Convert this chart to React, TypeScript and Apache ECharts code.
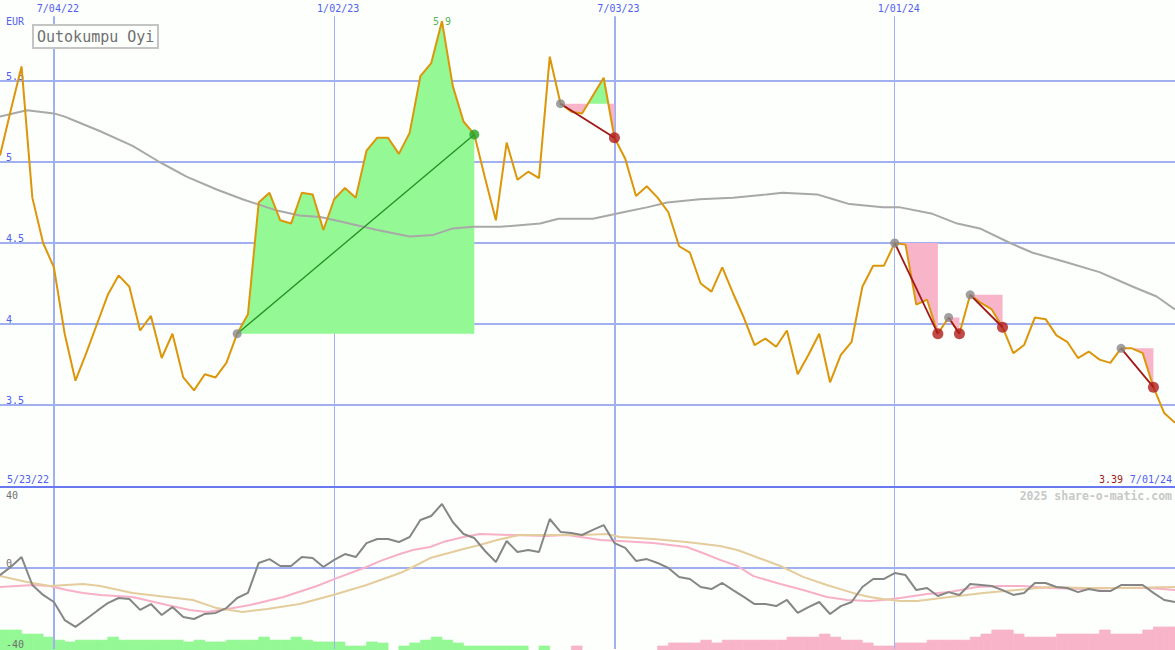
import React, { useEffect, useRef } from "react";
import * as echarts from "echarts";

const MONO = '"DejaVu Sans Mono", monospace';

// weekly closes, week 1 .. week 110
const price = [
  5.04, 5.32, 5.59, 4.78, 4.5, 4.35, 3.94, 3.65, 3.82, 4.0,
  4.18, 4.3, 4.23, 3.96, 4.05, 3.79, 3.94, 3.67, 3.59, 3.69,
  3.67, 3.76, 3.94, 4.06, 4.75, 4.81, 4.64, 4.62, 4.81, 4.8,
  4.58, 4.77, 4.84, 4.78, 5.07, 5.15, 5.15, 5.05, 5.18, 5.53,
  5.61, 5.87, 5.47, 5.25, 5.17, 4.9, 4.64, 5.12, 4.89, 4.94,
  4.9, 5.65, 5.36, 5.31, 5.3, 5.41, 5.52, 5.15, 5.02, 4.79,
  4.85, 4.78, 4.69, 4.48, 4.44, 4.25, 4.2, 4.35, 4.19, 4.04,
  3.87, 3.91, 3.86, 3.96, 3.69, 3.81, 3.94, 3.64, 3.81, 3.89,
  4.23, 4.36, 4.36, 4.5, 4.49, 4.12, 4.15, 3.94, 4.04, 3.94,
  4.18, 4.13, 4.09, 3.98, 3.82, 3.87, 4.04, 4.03, 3.93, 3.89,
  3.79, 3.83, 3.78, 3.76, 3.85, 3.85, 3.82, 3.61, 3.45, 3.39,
];

// long moving average (week position, value)
const maWeeks = [1, 3.5, 6, 7, 8.1, 10.3, 13.3, 15.8, 18.3, 21.1, 23.5, 26.7, 28.8, 30.7, 32.8, 36, 39, 41.2, 43, 44.9, 47.4, 51.1, 52.8, 56, 58.8, 61, 62.9, 65.9, 69, 72.1, 73.6, 76.8, 78.3, 79.8, 82.9, 84.5, 87.5, 89.8, 91.9, 94.7, 96.8, 100, 103, 106.1, 108.3, 110];
const maValues = [5.28, 5.32, 5.3, 5.28, 5.25, 5.19, 5.1, 5.0, 4.91, 4.83, 4.77, 4.7, 4.67, 4.66, 4.63, 4.58, 4.54, 4.55, 4.59, 4.6, 4.6, 4.62, 4.65, 4.65, 4.69, 4.72, 4.75, 4.77, 4.78, 4.8, 4.81, 4.8, 4.77, 4.74, 4.72, 4.72, 4.68, 4.62, 4.59, 4.5, 4.44, 4.38, 4.32, 4.23, 4.17, 4.09];

// lower panel oscillator, week 1 .. 110
const momentum = [
  -3.5, 0.5, 5.4, -8.4, -13.3, -16.8, -25.7, -29.1, -25.2, -21.2,
  -17.3, -14.8, -15.3, -20.7, -17.8, -23.2, -19.3, -24.2, -25.2, -22.7,
  -22.2, -19.8, -14.8, -12.3, 2.5, 4.4, 1.0, 1.0, 5.4, 4.9,
  0.5, 4.0, 6.9, 5.4, 12.3, 14.3, 14.3, 12.8, 15.3, 23.7,
  25.7, 31.6, 22.7, 16.8, 14.8, 8.4, 3.0, 13.3, 7.9, 8.9,
  7.9, 24.2, 17.8, 17.3, 16.3, 18.8, 21.2, 12.3, 9.9, 3.5,
  4.4, 2.5, 0.0, -4.4, -5.4, -9.4, -10.4, -7.4, -10.9, -14.3,
  -17.8, -17.8, -18.8, -15.8, -22.2, -19.3, -16.8, -22.7, -18.8, -16.8,
  -9.4, -5.4, -5.4, -2.5, -3.5, -10.9, -9.9, -13.8, -11.9, -13.3,
  -7.9, -8.4, -8.9, -10.9, -13.3, -12.3, -7.4, -7.4, -9.4, -9.9,
  -11.9, -10.4, -11.4, -11.4, -8.4, -8.4, -8.4, -12.3, -15.8, -16.8,
];

const pinkWeeks = [1, 4.1, 5.6, 7.2, 8.7, 10.3, 13.3, 16.5, 18.6, 20.2, 22.1, 24.2, 27.3, 30.4, 32.3, 35.0, 36.3, 38.1, 39.3, 40.9, 42.1, 44.0, 45.5, 48.6, 51.7, 53.6, 55.5, 56.7, 58.5, 61.6, 64.7, 66.2, 67.8, 69.4, 70.9, 73.4, 75.5, 77.7, 79.6, 81.7, 82.9, 84.5, 87.0, 89.1, 91.6, 93.8, 95.9, 98.4, 101.5, 104.6, 107.7, 110];
const pinkValues = [-9.4, -8.4, -8.9, -10.9, -12.3, -13.3, -14.3, -18.3, -20.7, -21.7, -20.2, -18.3, -14.3, -8.9, -4.9, 0.5, 3.5, 6.9, 8.9, 10.4, 12.8, 15.3, 16.8, 16.3, 15.8, 16.3, 14.8, 13.8, 13.3, 12.3, 10.4, 7.4, 4.0, 1.0, -4.0, -7.9, -10.9, -14.3, -15.8, -16.3, -15.8, -14.8, -12.8, -11.9, -9.4, -8.9, -8.9, -9.9, -10.4, -9.9, -9.9, -10.9];

const tanWeeks = [1, 3.5, 5.6, 8.7, 10.3, 13.3, 16.5, 18.9, 21.1, 23.5, 25.8, 28.8, 31.9, 35.0, 36.3, 38.1, 39.3, 40.9, 44.0, 45.5, 47.1, 49.2, 51.7, 54.8, 57.3, 58.5, 61.6, 64.7, 67.8, 69.4, 70.9, 73.4, 75.5, 77.7, 80.1, 81.7, 82.9, 84.5, 86.1, 89.1, 92.2, 95.3, 98.4, 101.5, 104.6, 110];
const tanValues = [-4.0, -6.9, -8.9, -7.9, -8.9, -12.3, -14.3, -15.8, -19.8, -21.7, -20.2, -17.8, -13.3, -8.4, -5.9, -2.5, 0.5, 4.9, 9.4, 11.4, 13.8, 16.3, 16.3, 16.3, 16.8, 15.3, 14.3, 12.8, 10.9, 8.9, 5.9, 1.0, -4.4, -8.4, -12.3, -14.3, -15.3, -16.3, -16.3, -14.3, -12.3, -10.9, -9.4, -9.9, -9.9, -9.4];

// trend bars per week interval (week 1 .. 109); positive = green, negative = pink
const trendBars = [
  9.4, 9.4, 7.4, 7.4, 5.9, 4.4, 3.5, 4.4, 4.4, 4.4,
  5.9, 4.4, 4.4, 4.4, 4.4, 4.4, 4.4, 3.5, 4.4, 3.5,
  3.5, 4.4, 4.4, 4.4, 5.9, 4.4, 4.4, 5.9, 4.4, 3.5,
  3.5, 3.5, 1.5, 1.5, 3.5, 3.0, 0, 1.5, 3.0, 4.4,
  5.9, 4.4, 3.0, 1.5, 1.5, 1.5, 1.5, 1.5, 1.5, 0,
  1.5, 0, 0, -1.5, 0, 0, 0, 0, 0, 0,
  0, -1.5, -3.0, -3.0, -3.0, -4.4, -3.0, -4.4, -4.4, -4.4,
  -4.4, -4.4, -4.4, -5.9, -5.9, -5.9, -7.4, -5.9, -4.4, -4.4,
  -3.0, -1.5, -1.5, -3.0, -3.0, -3.0, -4.4, -4.4, -4.4, -4.4,
  -5.9, -7.4, -9.4, -9.4, -7.4, -5.9, -5.9, -5.9, -7.4, -7.4,
  -7.4, -7.4, -9.4, -7.4, -7.4, -7.4, -9.4, -10.9, -10.9,
];

// trend signals (start week, end week)
const signalStarts = [23, 53, 84, 89, 91, 105];
const signalEnds = [45, 58, 88, 90, 94, 108];

// date ticks
const dateTickWeeks = [6, 32, 58, 84];
const dateTickLabels = ["7/04/22", "1/02/23", "7/03/23", "1/01/24"];
const dateTickWidths = [2, 1, 2, 1];
const firstDateLabel = "5/23/22";
const lastDateLabel = "7/01/24";
const currency = "EUR";
const stockName = "Outokumpu Oyi";
const watermark = "2025 share-o-matic.com";

const BG = "#fcfffc";
const GRID_BLUE = "#a0b0f0";
const GREEN_FILL = "#94f894";
const PINK_FILL = "#f8b4c8";

function buildFill(s: number, e: number) {
  const level = price[s - 1];
  const up: number[][] = [];
  const down: number[][] = [];
  for (let w = s; w <= e; w++) {
    const v = price[w - 1];
    if (w > s) {
      const prev = price[w - 2];
      if ((prev - level) * (v - level) < 0) {
        const t = (level - prev) / (v - prev);
        const xc = w - 1 + t;
        up.push([xc, level]);
        down.push([xc, level]);
      }
    }
    up.push([w, Math.max(v, level)]);
    down.push([w, Math.min(v, level)]);
  }
  return { level, up, down };
}

export default function App() {
  const ref = useRef<HTMLDivElement>(null);

  useEffect(() => {
    if (!ref.current) return;
    const chart = echarts.init(ref.current, null, { renderer: "svg" });

    const series: any[] = [];

    // price line with vertical date lines
    series.push({
      type: "line",
      name: "price",
      xAxisIndex: 0,
      yAxisIndex: 0,
      data: price.map((v, i) => [i + 1, v]),
      symbol: "none",
      z: 5,
      silent: true,
      lineStyle: { color: "#dc960a", width: 2 },
      markLine: {
        z: 1,
        silent: true,
        symbol: ["none", "none"],
        label: {
          show: true,
          position: "start",
          distance: 3,
          offset: [4, 0],
          formatter: "{b}",
          color: "#5060f0",
          fontSize: 10,
          fontFamily: MONO,
        },
        data: dateTickWeeks.map((w, i) => [
          { coord: [w, 5.9], name: dateTickLabels[i], lineStyle: { color: GRID_BLUE, width: dateTickWidths[i], type: "solid" } },
          { coord: [w, 3.0] },
        ]),
      },
    });

    series.push({
      type: "line",
      name: "ma",
      xAxisIndex: 0,
      yAxisIndex: 0,
      data: maWeeks.map((w, i) => [w, maValues[i]]),
      symbol: "none",
      z: 3,
      silent: true,
      lineStyle: { color: "#a8a8a8", width: 2 },
    });

    const startDots: any[] = [];
    const endDots: any[] = [];
    signalStarts.forEach((s, k) => {
      const e = signalEnds[k];
      const f = buildFill(s, e);
      const rising = price[e - 1] > price[s - 1];
      series.push({
        type: "line",
        xAxisIndex: 0,
        yAxisIndex: 0,
        data: f.up,
        symbol: "none",
        z: 2,
        silent: true,
        lineStyle: { width: 0, opacity: 0 },
        areaStyle: { color: GREEN_FILL, opacity: 1, origin: f.level },
      });
      series.push({
        type: "line",
        xAxisIndex: 0,
        yAxisIndex: 0,
        data: f.down,
        symbol: "none",
        z: 2,
        silent: true,
        lineStyle: { width: 0, opacity: 0 },
        areaStyle: { color: PINK_FILL, opacity: 1, origin: f.level },
      });
      series.push({
        type: "line",
        xAxisIndex: 0,
        yAxisIndex: 0,
        data: [
          [s, price[s - 1]],
          [e, price[e - 1]],
        ],
        symbol: "none",
        z: 6,
        silent: true,
        lineStyle: { color: rising ? "#209020" : "#a01818", width: rising ? 1.3 : 1.8 },
      });
      startDots.push({ value: [s, price[s - 1]] });
      endDots.push({
        value: [e, price[e - 1]],
        symbolSize: rising ? 10 : 11,
        itemStyle: { color: rising ? "#28a028" : "#b01c1c" },
      });
    });

    series.push({
      type: "scatter",
      xAxisIndex: 0,
      yAxisIndex: 0,
      data: startDots,
      symbolSize: 9,
      z: 7,
      silent: true,
      itemStyle: { color: "#888888" },
    });
    series.push({
      type: "scatter",
      xAxisIndex: 0,
      yAxisIndex: 0,
      data: endDots,
      z: 8,
      silent: true,
    });

    // peak label
    let peakIdx = 0;
    price.forEach((v, i) => {
      if (v > price[peakIdx]) peakIdx = i;
    });
    series.push({
      type: "scatter",
      xAxisIndex: 0,
      yAxisIndex: 0,
      data: [[peakIdx + 1, price[peakIdx]]],
      symbolSize: 1,
      z: 4,
      silent: true,
      itemStyle: { color: "rgba(0,0,0,0)" },
      label: {
        show: true,
        position: "inside",
        offset: [0, 0],
        formatter: (p: any) => p.value[1].toFixed(1),
        color: "#20a020",
        fontSize: 10,
        fontFamily: MONO,
      },
    });

    // lower panel
    series.push({
      type: "custom",
      xAxisIndex: 1,
      yAxisIndex: 2,
      z: 1,
      silent: true,
      data: trendBars.map((v, i) => [i + 1, v]),
      renderItem: (params: any, api: any) => {
        const w = api.value(0);
        const v = api.value(1);
        if (!v) return null;
        const p0 = api.coord([w, 0]);
        const p1 = api.coord([w + 1, Math.abs(v)]);
        const c = v > 0 ? GREEN_FILL : PINK_FILL;
        return {
          type: "rect",
          shape: { x: p0[0], y: p1[1], width: p1[0] - p0[0], height: p0[1] - p1[1] + 2 },
          style: { fill: c, stroke: c, lineWidth: 0.6 },
        };
      },
    });

    series.push({
      type: "line",
      xAxisIndex: 1,
      yAxisIndex: 1,
      data: pinkWeeks.map((w, i) => [w, pinkValues[i]]),
      symbol: "none",
      z: 3,
      silent: true,
      lineStyle: { color: "#f8b0c8", width: 2 },
    });
    series.push({
      type: "line",
      xAxisIndex: 1,
      yAxisIndex: 1,
      data: tanWeeks.map((w, i) => [w, tanValues[i]]),
      symbol: "none",
      z: 3,
      silent: true,
      lineStyle: { color: "#e4cc9c", width: 2 },
    });
    series.push({
      type: "line",
      xAxisIndex: 1,
      yAxisIndex: 1,
      data: momentum.map((v, i) => [i + 1, v]),
      symbol: "none",
      z: 4,
      silent: true,
      lineStyle: { color: "#868686", width: 2 },
      markLine: {
        z: 1.5,
        silent: true,
        symbol: ["none", "none"],
        label: { show: false },
        data: dateTickWeeks.map((w, i) => ({
          xAxis: w,
          lineStyle: { color: GRID_BLUE, width: dateTickWidths[i], type: "solid" },
        })),
      },
    });

    const lastPrice = price[price.length - 1];

    chart.setOption({
      animation: false,
      backgroundColor: BG,
      grid: [
        { left: 0, right: 0, top: 0, height: 486 },
        { left: 0, right: 0, top: 487, height: 162 },
      ],
      xAxis: [
        { type: "value", gridIndex: 0, min: 1, max: 110, show: false },
        {
          type: "value",
          gridIndex: 1,
          min: 1,
          max: 110,
          position: "top",
          z: 2,
          axisLine: { show: true, onZero: false, lineStyle: { color: "#6878f0", width: 2 } },
          axisTick: { show: false },
          axisLabel: { show: false },
          splitLine: { show: false },
        },
      ],
      yAxis: [
        {
          type: "value",
          gridIndex: 0,
          min: 3,
          max: 6,
          interval: 0.5,
          axisLine: { show: false },
          axisTick: { show: false },
          splitLine: { show: true, showMinLine: false, showMaxLine: false, lineStyle: { color: GRID_BLUE, width: 2 } },
          axisLabel: {
            inside: true,
            margin: 6,
            verticalAlign: "bottom",
            showMinLabel: false,
            showMaxLabel: false,
            color: "#5060f0",
            fontSize: 10,
            fontFamily: MONO,
          },
        },
        {
          type: "value",
          gridIndex: 1,
          min: -40,
          max: 40,
          interval: 40,
          z: 2,
          axisLine: { show: false },
          axisTick: { show: false },
          splitLine: { show: true, showMinLine: false, showMaxLine: false, lineStyle: { color: GRID_BLUE, width: 2 } },
          axisLabel: {
            inside: true,
            margin: 6,
            verticalAlign: "bottom",
            verticalAlignMaxLabel: "top",
            color: "#707070",
            fontSize: 10,
            fontFamily: MONO,
            padding: [3, 0, 0, 0],
          },
        },
        { type: "value", gridIndex: 1, min: 0, max: 80, show: false },
      ],
      graphic: [
        {
          type: "text",
          x: 6,
          y: 21,
          z: 10,
          style: { text: currency, fill: "#5060f0", font: `10px ${MONO}`, verticalAlign: "middle", textVerticalAlign: "middle" },
        },
        {
          type: "rect",
          z: 10,
          shape: { x: 33, y: 25, width: 125, height: 23 },
          style: { fill: BG, stroke: "#c4c4c4", lineWidth: 2 },
        },
        {
          type: "text",
          x: 37,
          y: 37,
          z: 11,
          style: { text: stockName, fill: "#707070", font: `15px ${MONO}`, verticalAlign: "middle", textVerticalAlign: "middle" },
        },
        {
          type: "text",
          x: 7,
          y: 479,
          z: 10,
          style: { text: firstDateLabel, fill: "#5060f0", font: `10px ${MONO}`, verticalAlign: "middle", textVerticalAlign: "middle" },
        },
        {
          type: "text",
          x: 1172,
          y: 479,
          z: 10,
          style: { text: lastDateLabel, fill: "#5060f0", font: `10px ${MONO}`, align: "right", textAlign: "right", verticalAlign: "middle", textVerticalAlign: "middle" },
        },
        {
          type: "text",
          x: 1123,
          y: 479,
          z: 10,
          style: { text: lastPrice.toFixed(2), fill: "#a01c1c", font: `10px ${MONO}`, align: "right", textAlign: "right", verticalAlign: "middle", textVerticalAlign: "middle" },
        },
        {
          type: "text",
          x: 1172,
          y: 496,
          z: 10,
          style: { text: watermark, fill: "#c8c8c8", font: `bold 11.5px ${MONO}`, align: "right", textAlign: "right", verticalAlign: "middle", textVerticalAlign: "middle" },
        },
      ],
      series,
    });

    return () => chart.dispose();
  }, []);

  return (
    <div
      ref={ref}
      style={{ position: "fixed", left: 0, top: 0, width: 1175, height: 650, background: BG }}
    />
  );
}
